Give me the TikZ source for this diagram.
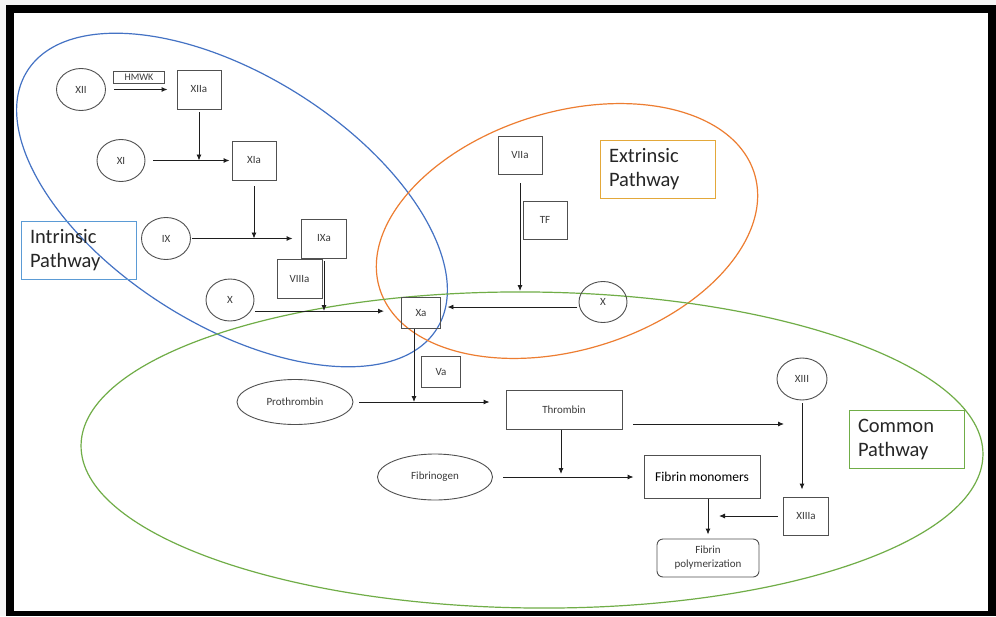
\documentclass[tikz,border=0pt]{standalone}
\usepackage{fontspec}
\setmainfont{Carlito}
\usetikzlibrary{arrows.meta,shapes.geometric,calc}
\definecolor{bluE}{HTML}{4472C4}
\definecolor{orangE}{HTML}{ED7D31}
\definecolor{greenE}{HTML}{70AD47}
\definecolor{intrB}{HTML}{5B9BD5}
\definecolor{extrB}{HTML}{E3A83A}
\definecolor{nodeG}{HTML}{505050}
\definecolor{txtG}{HTML}{3A3A3A}
\definecolor{arrG}{HTML}{1E1E1E}
\begin{document}
\begin{tikzpicture}[x=1pt,y=-1pt,
  ell/.style={ellipse, draw=nodeG, line width=0.9pt, inner sep=0pt, text=txtG, font=\fontsize{11}{13}\selectfont},
  box/.style={rectangle, draw=nodeG, line width=0.9pt, inner sep=0pt, text=txtG, font=\fontsize{11}{13}\selectfont},
  sq/.style={box, minimum width=44pt, minimum height=39pt},
  circ/.style={ell, minimum width=49pt, minimum height=42pt},
  pathlabel/.style={rectangle, line width=0.9pt, inner xsep=9pt, inner ysep=0pt, minimum width=115pt, minimum height=58pt, text width=97pt, align=left, text=black!85, font=\fontsize{20.5}{24}\selectfont},
  arr/.style={draw=arrG, line width=0.9pt, -{Latex[length=6pt,width=5pt]}},
  big/.style={line width=1.2pt}
]
\useasboundingbox (0,0) rectangle (996,616);
\fill[gray!8] (0,0) rectangle (996,616);
\fill[black] (6,5) rectangle (996,616);
\fill[white] (14,13) rectangle (988,611);

% pathway ellipses
\draw[big, bluE, rotate around={-32.2:(232,200)}] (232,200) ellipse [x radius=242, y radius=125];
\draw[big, orangE, rotate around={17:(567,231)}] (567,231) ellipse [x radius=196, y radius=119];
\draw[big, greenE, rotate around={-0.6:(532,450)}] (532,450) ellipse [x radius=451, y radius=158];

% pathway labels
\node[pathlabel, draw=intrB] (intr) at (78.5,250) {Intrinsic\\Pathway};
\node[pathlabel, draw=extrB] (extr) at (657.5,169) {Extrinsic\\Pathway};
\node[pathlabel, draw=greenE] (comm) at (906.5,439) {Common\\Pathway};

% intrinsic nodes
\node[circ] (XII) at (81,89.5) {XII};
\node[box, minimum width=51pt, minimum height=12pt, font=\fontsize{10}{11}\selectfont] (HMWK) at (139,77) {HMWK};
\node[sq] (XIIa) at (199,89.5) {XIIa};
\node[circ, minimum width=48pt] (XI) at (121,160.5) {XI};
\node[sq] (XIa) at (254,160.5) {XIa};
\node[circ] (IX) at (166,238.5) {IX};
\node[sq, minimum width=45pt] (IXa) at (324,238.5) {IXa};
\node[sq, minimum width=45pt] (VIIIa) at (299.5,279) {VIIIa};
\node[circ, minimum width=48pt] (X1) at (230,300) {X};
\node[box, minimum width=39pt, minimum height=31pt] (Xa) at (421,313) {Xa};

% extrinsic nodes
\node[sq, minimum height=38pt] (VIIa) at (520,155) {VIIa};
\node[sq, minimum height=38pt] (TF) at (545,220) {TF};
\node[circ, minimum width=48pt, minimum height=41pt] (X2) at (603,302) {X};

% common nodes
\node[box, minimum width=39pt, minimum height=31pt] (Va) at (441,372) {Va};
\node[ell, minimum width=116pt, minimum height=45pt] (Pro) at (295,402) {Prothrombin};
\node[box, minimum width=116pt, minimum height=39pt] (Thr) at (564,410) {Thrombin};
\node[ell, minimum width=115pt, minimum height=46pt] (Fbg) at (435,477) {Fibrinogen};
\node[box, minimum width=116pt, minimum height=43pt, text=black, font=\fontsize{13.5}{15}\selectfont] (FM) at (702,477) {Fibrin monomers};
\node[box, rounded corners=6pt, minimum width=102pt, minimum height=38pt, align=center, font=\fontsize{11}{14}\selectfont] (FP) at (708,558) {Fibrin\\polymerization};
\node[circ, minimum width=50pt] (XIII) at (802,379) {XIII};
\node[sq, minimum width=45pt, minimum height=38pt] (XIIIa) at (806,516) {XIIIa};

% junctions
\coordinate (j1) at (199,160.5);
\coordinate (j2) at (254,238.5);
\coordinate (j3) at (324,311);
\coordinate (j4) at (520,291);
\coordinate (j5) at (414,402);
\coordinate (j6) at (784,424);
\coordinate (j7) at (561,477);
\coordinate (j8) at (708,516);

% connectors
\draw[arr, shorten <=8.5pt, shorten >=9pt] (XII.east) -- (XIIa.west);
\draw[arr, shorten <=3pt] (XIIa) -- (j1);
\draw[arr, shorten <=8pt, shorten >=2pt] (XI.east) -- (XIa.west);
\draw[arr, shorten <=6pt] (XIa) -- (j2);
\draw[arr, shorten <=1pt, shorten >=8.5pt] (IX.east) -- (IXa.west);
\draw[arr, shorten <=2.5pt] (IXa) -- (j3);
\draw[arr, shorten <=4pt, shorten >=17pt] (X1.-28) -- (X1.-28 -| Xa.west);
\draw[arr, shorten <=9pt] (VIIa) -- (j4);
\draw[arr, shorten <=2pt, shorten >=6.5pt] (X2.192) -- (X2.192 -| Xa.east);
\draw[arr] (Xa.south -| j5) -- (j5);
\draw[arr, shorten <=6pt, shorten >=16pt] (Pro.east) -- (Pro.east -| Thr.west);
\draw[arr, shorten <=11pt] (Thr.east |- j6) -- (j6);
\draw[arr, shorten >=3pt] (Thr.south -| j7) -- (j7);
\draw[arr, shorten <=10.5pt, shorten >=10pt] (Fbg.east) -- (FM.west);
\draw[arr, shorten >=4pt] (FM.south -| FP.north) -- (FP.north);
\draw[arr, shorten <=3pt, shorten >=7pt] (XIII.south) -- (XIII.south |- XIIIa.north);
\draw[arr, shorten <=5.5pt, shorten >=11pt] (XIIIa.west) -- (j8);
\end{tikzpicture}
\end{document}
